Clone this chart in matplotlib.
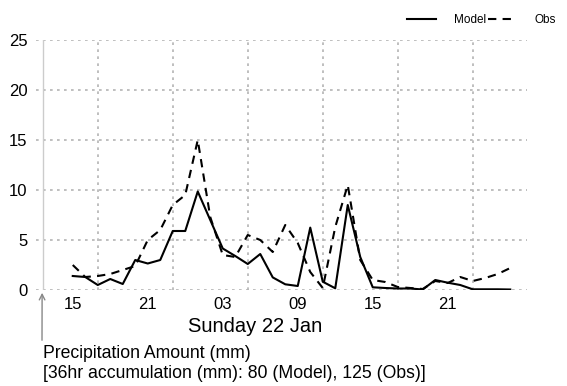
import matplotlib
matplotlib.use("Agg")
import matplotlib.pyplot as plt

plt.rcParams['font.family'] = ['Liberation Sans', 'DejaVu Sans']

# hours counted from Saturday 00:00 (15 = Sat 15:00, 27 = Sun 03:00, ...)
hours = list(range(15, 51))
model = [1.4, 1.3, 0.5, 1.1, 0.6, 3.0, 2.65, 3.0, 5.9, 5.9,
         9.85, 7.0, 4.15, 3.4, 2.6, 3.6, 1.26, 0.57, 0.4, 6.24,
         0.83, 0.17, 8.5, 3.3, 0.27, 0.2, 0.15, 0.15, 0.05, 1.0,
         0.73, 0.5, 0.07, 0.07, 0.07, 0.05]
obs = [2.5, 1.3, 1.4, 1.6, 2.0, 2.4, 5.0, 6.0, 8.5, 9.5,
       15.0, 7.3, 3.5, 3.3, 5.5, 5.0, 3.8, 6.5, 4.7, 1.8,
       0.2, 6.3, 10.5, 3.0, 1.0, 0.8, 0.3, 0.2, 0.1, 0.9,
       0.7, 1.3, 0.9, 1.2, 1.6, 2.2]
tick_hours = [15, 21, 27, 33, 39, 45]
tick_labels = ['15', '21', '03', '09', '15', '21']
grid_hours = [17, 23, 29, 35, 41, 47]
yticks = [0, 5, 10, 15, 20, 25]

W, H = 567, 386
fig = plt.figure(figsize=(W / 100, H / 100), dpi=100)
ax = fig.add_axes([36 / W, 96 / H, 491 / W, 250 / H])

ax.plot(hours, model, color='black', lw=1.5, label='Model')
ax.plot(hours, obs, color='black', lw=1.5, dashes=(4, 3), label='Obs')

ax.set_xlim(12.06, 51.34)
ax.set_ylim(0, 25)
ax.set_yticks(yticks)
ax.set_xticks(tick_hours)
ax.set_xticklabels(tick_labels)
ax.set_xticks(grid_hours, minor=True)
ax.tick_params(axis='both', which='both', length=0, labelsize=12)
ax.tick_params(axis='y', pad=6)
ax.tick_params(axis='x', pad=5)

grid_style = dict(color='#b4b4b4', lw=1.2, linestyle=(0, (1.6, 2.6)))
ax.grid(axis='y', which='major', **grid_style)
ax.grid(axis='x', which='minor', **grid_style)
for s in ax.spines.values():
    s.set_visible(False)
ax.axvline(12.6, color='#cccccc', lw=1)

ax.annotate('', xy=(12.55, 0), xytext=(42, H - 343), textcoords='figure pixels',
            arrowprops=dict(arrowstyle='->', color='#888888', lw=1),
            annotation_clip=False)

ax.legend(loc='center right', bbox_to_anchor=(562 / W, 1 - 20 / H),
          bbox_transform=fig.transFigure, ncol=2, frameon=False, fontsize=8.5,
          handlelength=2.45, handletextpad=1.5, columnspacing=0.2, borderpad=0)

fig.text(255 / W, 1 - 327 / H, 'Sunday 22 Jan', ha='center', va='center', fontsize=14.5)
fig.text(43 / W, 1 - 354 / H, 'Precipitation Amount (mm)', ha='left', va='center', fontsize=12.7)
fig.text(43 / W, 1 - 374 / H, '[36hr accumulation (mm): 80 (Model), 125 (Obs)]',
         ha='left', va='center', fontsize=12.7)

fig.savefig('out.png', dpi=100)
